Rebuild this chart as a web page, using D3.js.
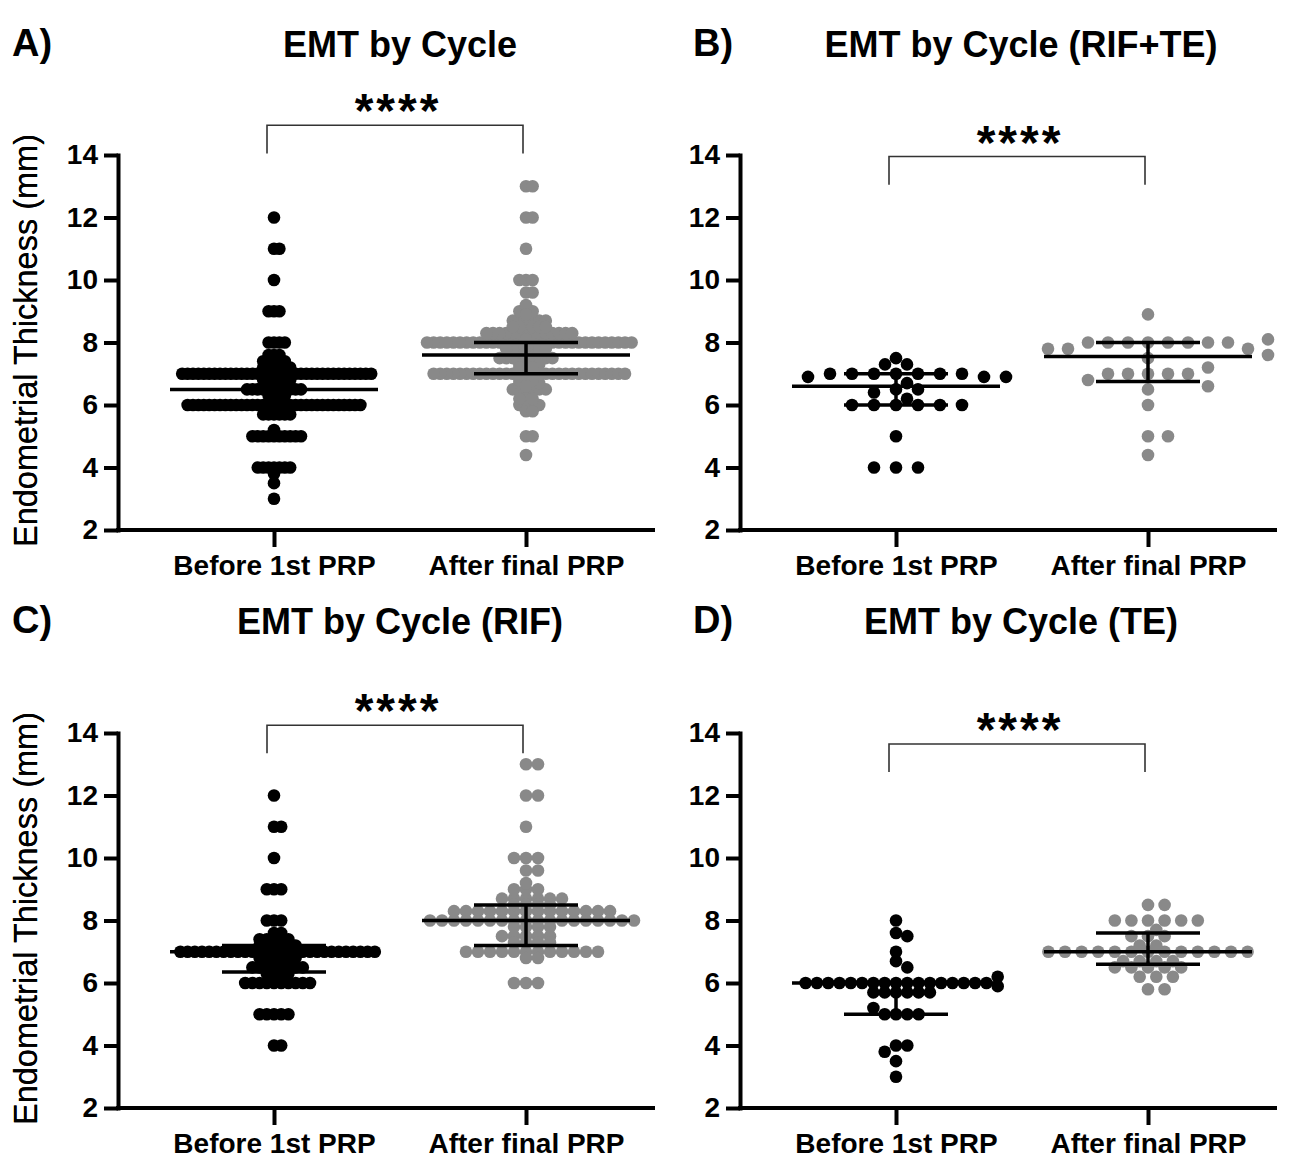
<!DOCTYPE html>
<html>
<head>
<meta charset="utf-8">
<script src="https://cdn.jsdelivr.net/npm/d3@7"></script>
<style>
  body { margin: 0; background: #fff; }
  text { font-family: "Liberation Sans", Arial, sans-serif; }
</style>
</head>
<body>
<svg id="fig" width="1309" height="1159"></svg>
<script>
// ---- data ----
const categories = ["Before 1st PRP", "After final PRP"];
const titles = ["EMT by Cycle", "EMT by Cycle (RIF+TE)", "EMT by Cycle (RIF)", "EMT by Cycle (TE)"];
const panelLetters = ["A)", "B)", "C)", "D)"];
const yTicks = [2, 4, 6, 8, 10, 12, 14];
const sigLabels = ["****", "****", "****", "****"];

// [value (mm), number of dots at that value]
const bBefore = [[7.5,1],[7.3,2],[7.0,7],[6.9,3],[6.7,1],[6.5,2],[6.4,1],[6.2,1],[6.0,6],[5.0,1],[4.0,3]];
const bAfter  = [[8.9,1],[8.1,1],[8.0,8],[7.8,3],[7.6,1],[7.5,1],[7.2,1],[7.0,5],[6.8,1],[6.6,1],[6.5,1],[6.0,1],[5.0,2],[4.4,1]];
const cBefore = [[12,1],[11,2],[10,1],[9,3],[8,3],[7.6,2],[7.4,5],[7.2,6],[7.0,28],[6.8,6],[6.5,8],[6.3,4],[6.0,10],[5.0,5],[4.0,2]];
const cAfter  = [[13,2],[12,2],[11,1],[10,3],[9.6,2],[9.2,1],[9.0,3],[8.7,6],[8.5,4],[8.3,14],[8.0,18],[7.8,4],[7.5,5],[7.3,4],[7.0,12],[6.8,2],[6.0,3]];
const dBefore = [[8.0,1],[7.6,1],[7.5,1],[7.0,1],[6.7,1],[6.5,1],[6.2,1],[6.0,17],[5.9,1],[5.7,6],[5.2,1],[5.0,4],[4.0,2],[3.8,1],[3.5,1],[3.0,1]];
const dAfter  = [[8.5,2],[8.0,6],[7.7,1],[7.5,3],[7.2,2],[7.0,13],[6.7,4],[6.5,5],[6.2,3],[5.8,2]];
// all cycles = the three subgroups together
const aBefore = bBefore.concat(cBefore, dBefore);
const aAfter  = bAfter.concat(cAfter, dAfter);

// median and interquartile range per panel [before, after]
const medians = [[6.5, 7.6], [6.6, 7.55], [7.0, 8.0], [6.0, 7.0]];
const q1s     = [[6.0, 7.0], [6.0, 6.75], [6.35, 7.2], [5.0, 6.6]];
const q3s     = [[7.0, 8.0], [7.0, 8.0], [7.2, 8.5], [6.0, 7.6]];

// significance bracket height (mm units)
const bracketLevel = [14.95, 13.95, 14.25, 13.65];

// ---- layout ----
const groups = [[aBefore, aAfter], [bBefore, bAfter], [cBefore, cAfter], [dBefore, dAfter]];
const panels = [
  {x0: 118, top: 155, bottom: 530, titleX: 400, titleY: 57, letterX: 12, letterY: 56},
  {x0: 740, top: 155, bottom: 530, titleX: 1021, titleY: 57, letterX: 693, letterY: 56},
  {x0: 118, top: 733, bottom: 1108, titleX: 400, titleY: 634, letterX: 12, letterY: 633},
  {x0: 740, top: 733, bottom: 1108, titleX: 1021, titleY: 634, letterX: 693, letterY: 633}
];
// dot spacing (s) and collision distance (d) for each column
const swarmOpts = [
  [{s: 5.4, d: 3}, {s: 6.6, d: 3}],
  [{s: 11, d: 12}, {s: 20, d: 13}],
  [{s: 7.2, d: 6.2}, {s: 12, d: 6.2}],
  [{s: 11.3, d: 9}, {s: 8.3, d: 10}]
];
const colors = ["#000000", "#898989"];
const r = 6.3;
const axisLen = 537;

const svg = d3.select("#fig");

function swarm(pairs, y, s, d) {
  // merge equal values, biggest rows go first so they stay centred
  const rows = Array.from(d3.rollup(pairs, v => d3.sum(v, p => p[1]), p => p[0]))
    .sort((a, b) => b[1] - a[1] || b[0] - a[0]);
  const placed = [];
  rows.forEach(([v, n]) => {
    for (let i = 0; i < n; i++) {
      const py = y(v);
      for (let j = 0; ; j++) {
        const k = j === 0 ? 0 : (j % 2 ? (j + 1) / 2 : -j / 2);
        const px = k * s;
        if (!placed.some(p => (p.x - px) ** 2 + (p.y - py) ** 2 < d * d)) {
          placed.push({x: px, y: py, v: v});
          break;
        }
      }
    }
  });
  return placed;
}

panels.forEach((P, pi) => {
  const g = svg.append("g");

  const y = d3.scaleLinear().domain([2, 14]).range([P.bottom, P.top]);
  const x = d3.scalePoint().domain(categories).range([P.x0 + 156, P.x0 + 408]);

  // dots
  categories.forEach((c, ci) => {
    const pts = swarm(groups[pi][ci], y, swarmOpts[pi][ci].s, swarmOpts[pi][ci].d);
    g.append("g")
      .attr("fill", colors[ci])
      .selectAll("circle")
      .data(pts)
      .join("circle")
        .attr("cx", d => x(c) + d.x)
        .attr("cy", d => d.y)
        .attr("r", r);
  });

  // median + IQR
  categories.forEach((c, ci) => {
    const cx = x(c);
    const sg = g.append("g").attr("stroke", "#000").attr("stroke-width", 3.5);
    sg.append("line").attr("x1", cx - 104).attr("x2", cx + 104)
      .attr("y1", y(medians[pi][ci])).attr("y2", y(medians[pi][ci]));
    sg.append("line").attr("x1", cx - 52).attr("x2", cx + 52)
      .attr("y1", y(q1s[pi][ci])).attr("y2", y(q1s[pi][ci]));
    sg.append("line").attr("x1", cx - 52).attr("x2", cx + 52)
      .attr("y1", y(q3s[pi][ci])).attr("y2", y(q3s[pi][ci]));
    sg.append("line").attr("x1", cx).attr("x2", cx)
      .attr("y1", y(q1s[pi][ci])).attr("y2", y(q3s[pi][ci]));
  });

  // y axis
  const yAxis = g.append("g")
    .attr("transform", `translate(${P.x0},0)`)
    .call(d3.axisLeft(y).tickValues(yTicks).tickSize(14).tickSizeOuter(0).tickPadding(6));
  yAxis.select(".domain").attr("stroke-width", 4).attr("stroke-linecap", "square");
  yAxis.selectAll(".tick line").attr("stroke-width", 4);
  yAxis.selectAll("text").attr("font-size", 28).attr("font-weight", "bold").attr("fill", "#000");

  // x axis
  const xAxis = g.append("g")
    .attr("transform", `translate(0,${P.bottom})`)
    .call(d3.axisBottom(x).tickSize(17).tickPadding(8));
  xAxis.select(".domain").remove();
  xAxis.append("line")
    .attr("x1", P.x0 - 2).attr("x2", P.x0 + axisLen)
    .attr("stroke", "#000").attr("stroke-width", 4);
  xAxis.selectAll(".tick line").attr("stroke-width", 4);
  xAxis.selectAll("text").attr("font-size", 28).attr("font-weight", "bold").attr("fill", "#000");

  // y axis title
  g.append("text")
    .attr("transform", `translate(37,${(P.top + P.bottom) / 2 - 2}) rotate(-90)`)
    .attr("text-anchor", "middle")
    .attr("font-size", 32.5)
    .text("Endometrial Thickness (mm)");

  // titles
  g.append("text")
    .attr("x", P.titleX).attr("y", P.titleY)
    .attr("text-anchor", "middle")
    .attr("font-size", 36).attr("font-weight", "bold")
    .text(titles[pi]);
  g.append("text")
    .attr("x", P.letterX).attr("y", P.letterY)
    .attr("font-size", 38).attr("font-weight", "bold")
    .text(panelLetters[pi]);

  // significance bracket
  const by = y(bracketLevel[pi]);
  const legY = y(bracketLevel[pi] - 0.9);
  const bx1 = x(categories[0]) - 7, bx2 = x(categories[1]) - 3;
  g.append("path")
    .attr("d", `M${bx1},${legY}V${by}H${bx2}V${legY}`)
    .attr("fill", "none").attr("stroke", "#333").attr("stroke-width", 1.6);
  g.append("text")
    .attr("x", (bx1 + bx2) / 2 + 3).attr("y", by + 2)
    .attr("text-anchor", "middle")
    .attr("font-size", 48).attr("font-weight", "bold")
    .attr("letter-spacing", 3)
    .text(sigLabels[pi]);
});
</script>
</body>
</html>
